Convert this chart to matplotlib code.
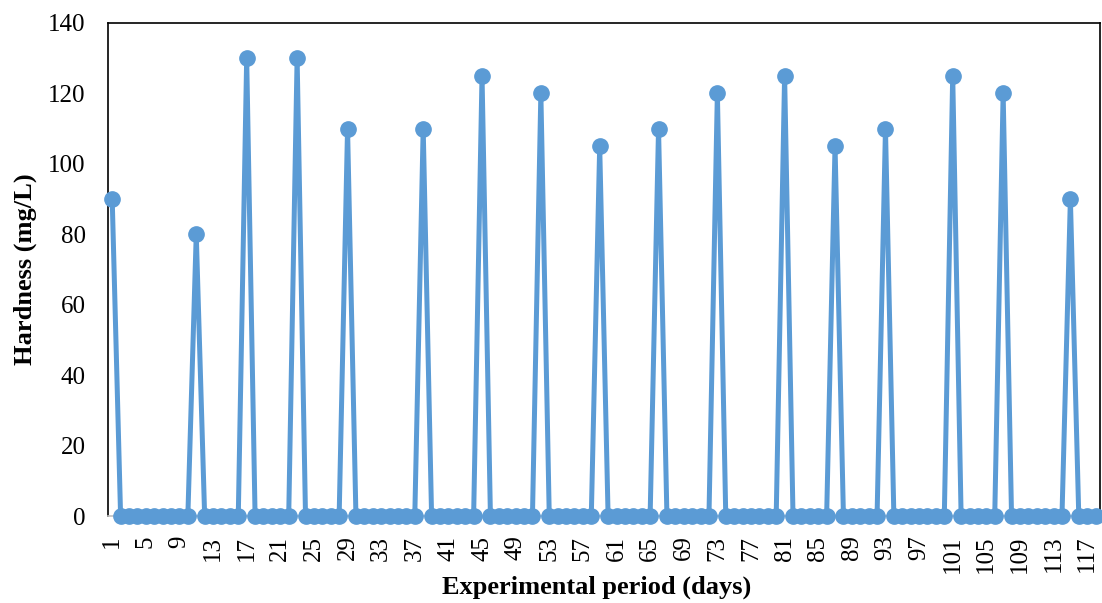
import numpy as np
import matplotlib
matplotlib.use('Agg')
import matplotlib.pyplot as plt

# daily hardness readings, zero on days with no measurement
days = np.arange(1, 119)
peak_days = [1, 11, 17, 23, 29, 38, 45, 52, 59, 66, 73, 81, 87, 93, 101, 107, 115]
peak_values = [90, 80, 130, 130, 110, 110, 125, 120, 105, 110, 120, 125, 105, 110, 125, 120, 90]
hardness = np.zeros(len(days))
for d, v in zip(peak_days, peak_values):
    hardness[d - 1] = v

tick_days = list(range(1, 119, 4))

plt.rcParams['font.family'] = ['Liberation Serif', 'DejaVu Serif']

fig = plt.figure(figsize=(11.02, 6.03), dpi=100)
ax = fig.add_axes([0.098, 0.144, 0.9, 0.818])

ax.plot(days, hardness, color='#5B9BD5', linewidth=3.6, marker='o',
        markersize=11, clip_on=False, zorder=3)

ax.set_xlim(0.5, 118.5)
ax.set_ylim(0, 140)
ax.set_yticks(range(0, 141, 20))
ax.set_xticks(tick_days)
ax.set_xticklabels([str(t) for t in tick_days], rotation=90)
ax.tick_params(axis='both', length=0, labelsize=18)
ax.tick_params(axis='x', pad=14)
ax.tick_params(axis='y', pad=16)

for s in ['top', 'right', 'left']:
    ax.spines[s].set_color('black')
    ax.spines[s].set_linewidth(1.2)
ax.spines['bottom'].set_color('#BFBFBF')
ax.spines['bottom'].set_linewidth(1.2)

ax.set_xlabel('Experimental period (days)', fontsize=19, fontweight='bold')
ax.xaxis.set_label_coords(0.493, -0.12)
ax.set_ylabel('Hardness (mg/L)', fontsize=19, fontweight='bold', labelpad=8)

fig.savefig('out.png', dpi=100)
